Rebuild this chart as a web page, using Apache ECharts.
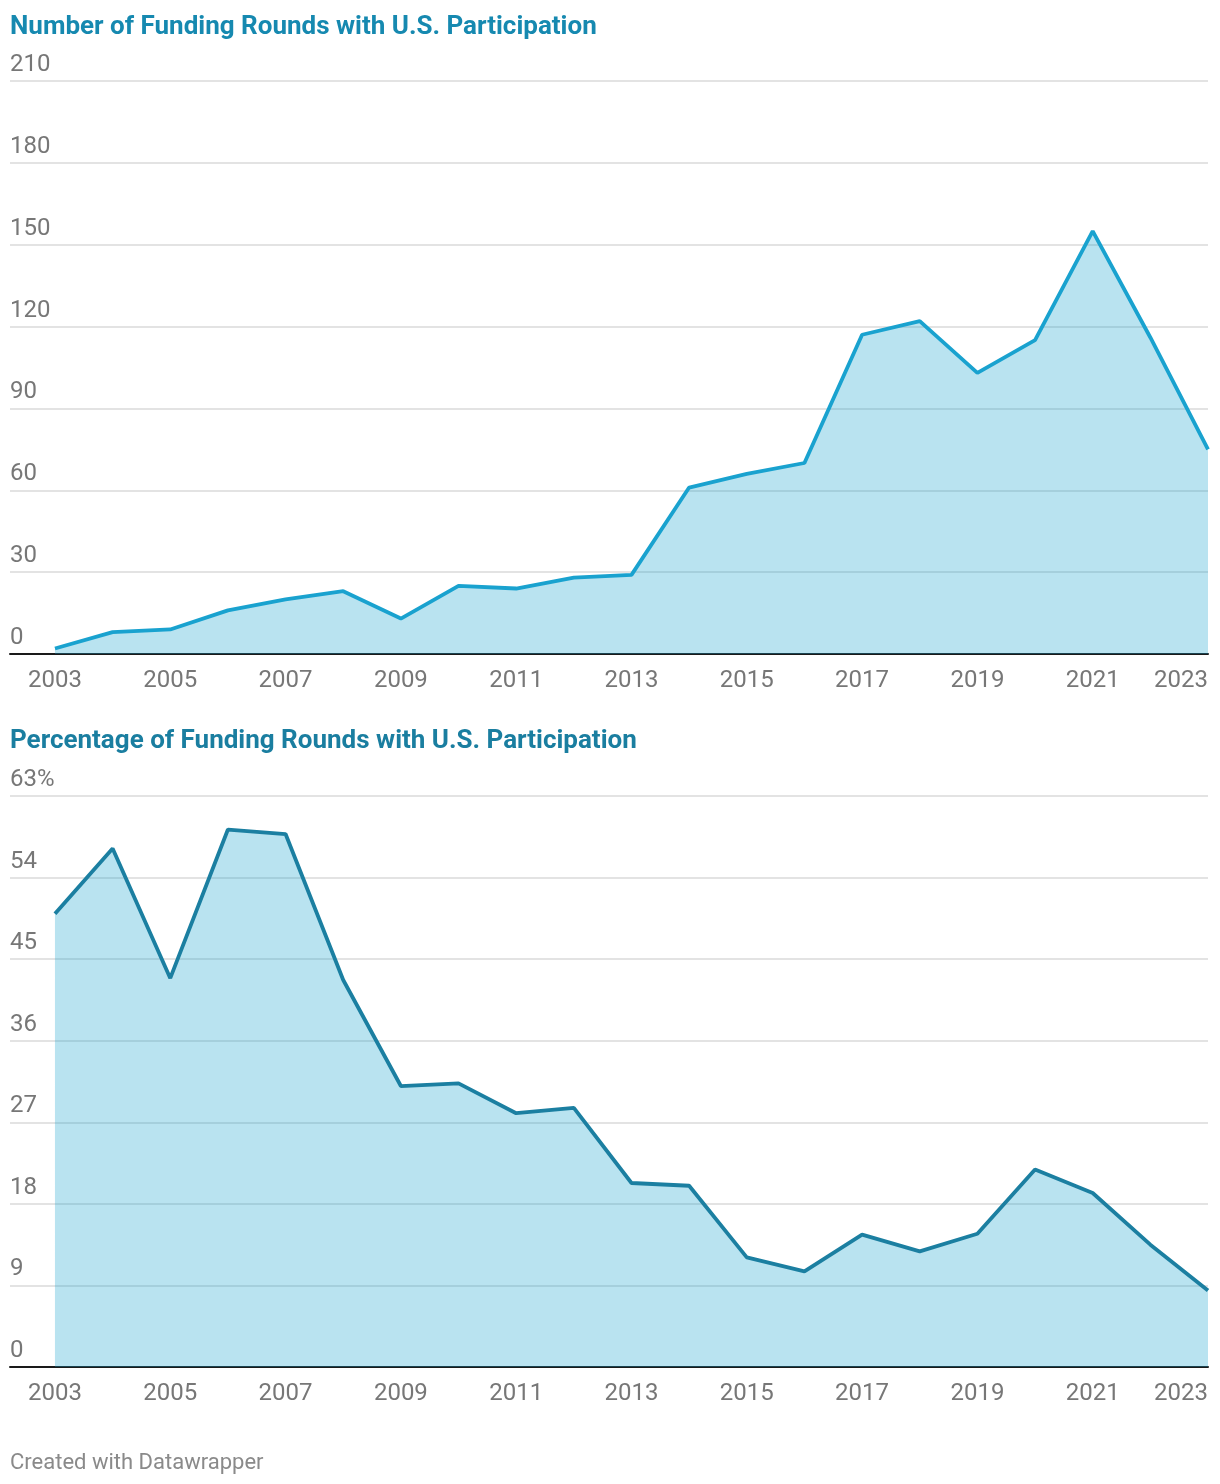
<!DOCTYPE html>
<html>
<head>
<meta charset="utf-8">
<script src="https://cdn.jsdelivr.net/npm/echarts@6/dist/echarts.min.js"></script>
<style>
html,body{margin:0;padding:0;background:#fff;}
#chart{width:1220px;height:1484px;}
</style>
</head>
<body>
<div id="chart"></div>
<script>
const years = [2003,2004,2005,2006,2007,2008,2009,2010,2011,2012,2013,2014,2015,2016,2017,2018,2019,2020,2021,2022,2023];
const roundsCount = [2,8,9,16,20,23,13,25,24,28,29,61,66,70,117,122,103,115,155,116,75];
const roundsPct = [50.0,57.2,42.9,59.3,58.8,42.7,31.0,31.3,28.0,28.6,20.3,20.0,12.1,10.55,14.6,12.75,14.7,21.8,19.2,13.5,8.45];
const xTickLabels = [2003,2005,2007,2009,2011,2013,2015,2017,2019,2021,2023];
const countTicks = [0,30,60,90,120,150,180,210];
const pctTicks = [0,9,18,27,36,45,54,63];
const titles = ["Number of Funding Rounds with U.S. Participation","Percentage of Funding Rounds with U.S. Participation"];
const footer = "Created with Datawrapper";

const FONT = 'Roboto, "Noto Sans", sans-serif';
const chart = echarts.init(document.getElementById('chart'), null, {renderer:'canvas'});

function xAxisCfg(gridIndex){
  return {
    type:'value', gridIndex, min:2002.22, max:2023,
    axisLine:{show:true,onZero:false,lineStyle:{color:'#1a1a1a',width:2}},
    axisTick:{show:false},
    splitLine:{show:false},
    axisLabel:{customValues:xTickLabels, color:'#777777', fontFamily:FONT, fontSize:24, margin:15, alignMaxLabel:'right', formatter:v=>String(v)}
  };
}
function yAxisCfg(gridIndex, ticks, pct){
  return {
    type:'value', gridIndex, min:ticks[0], max:ticks[ticks.length-1], interval:ticks[1]-ticks[0],
    axisLine:{show:false}, axisTick:{show:false},
    splitLine:{show:true,lineStyle:{color:'#e3e3e3',width:2}},
    axisLabel:{inside:true, margin:0, verticalAlign:'bottom', align:'left', padding:[0,0,4,0],
      color:'#777777', fontFamily:FONT, fontSize:24,
      formatter:v=> (pct && v===ticks[ticks.length-1]) ? v+'%' : String(v)}
  };
}

chart.setOption({
  animation:false,
  backgroundColor:'#fff',
  title:[
    {text:titles[0], left:10, top:14, padding:0, textStyle:{color:'#1689b0',fontFamily:FONT,fontWeight:'bold',fontSize:26}},
    {text:titles[1], left:10, top:728, padding:0, textStyle:{color:'#1a7ea0',fontFamily:FONT,fontWeight:'bold',fontSize:26}},
    {text:footer, left:10, top:1452, padding:0, textStyle:{color:'#8a8a8a',fontFamily:FONT,fontWeight:'normal',fontSize:22}}
  ],
  grid:[
    {left:10,right:12,top:81,height:573,containLabel:false},
    {left:10,right:12,top:796,height:571,containLabel:false}
  ],
  xAxis:[xAxisCfg(0), xAxisCfg(1)],
  yAxis:[yAxisCfg(0,countTicks,false), yAxisCfg(1,pctTicks,true)],
  series:[
    {type:'line', xAxisIndex:0, yAxisIndex:0, data:years.map((y,i)=>[y,roundsCount[i]]),
      symbol:'none', lineStyle:{color:'#19a2cf',width:3.8}, areaStyle:{color:'rgba(24,161,205,0.3)',opacity:1}, z:3},
    {type:'line', xAxisIndex:1, yAxisIndex:1, data:years.map((y,i)=>[y,roundsPct[i]]),
      symbol:'none', lineStyle:{color:'#1b7fa1',width:3.8}, areaStyle:{color:'rgba(24,161,205,0.3)',opacity:1}, z:3}
  ]
});
</script>
</body>
</html>
